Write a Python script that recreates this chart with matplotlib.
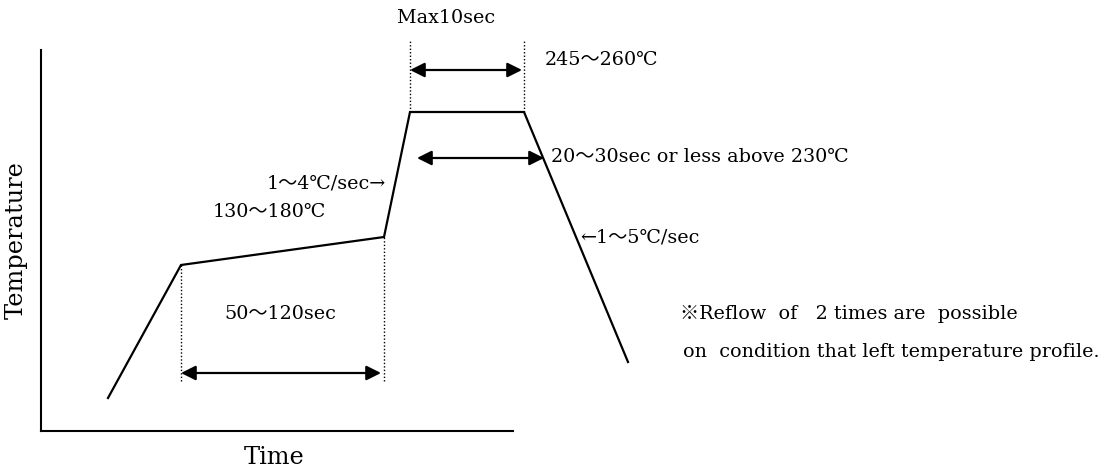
import matplotlib.pyplot as plt

# reflow profile (arbitrary units: time -> right, temperature -> up)
time = [67, 140, 343, 369, 483, 587]
temp = [33, 166, 194, 319, 319, 69]

# dotted guides: (x, y0, y1)
guides = [(140, 50, 166), (343, 50, 194), (369, 319, 391), (483, 319, 391)]

# double arrows: (x0, x1, y)
spans = [(140, 340, 58), (369, 481, 361), (376, 503, 273)]

labels = [
    ("Max10sec", 405, 413, "center"),
    ("245～260℃", 504, 371, "left"),
    ("20～30sec or less above 230℃", 510, 274, "left"),
    ("1～4℃/sec→", 345, 248, "right"),
    ("130～180℃", 172, 219, "left"),
    ("←1～5℃/sec", 539, 194, "left"),
    ("50～120sec", 239, 117, "center"),
    ("※Reflow  of   2 times are  possible", 639, 117, "left"),
    ("on  condition that left temperature profile.", 642, 79, "left"),
]

fonts = ["DejaVu Serif", "Noto Sans CJK JP"]
fs = 13.8

fig = plt.figure(figsize=(11.11, 4.71), dpi=100)
ax = fig.add_axes([41 / 1111, 40 / 471, 472 / 1111, 381 / 471])
ax.set_xlim(0, 472)
ax.set_ylim(0, 381)
for s in ["top", "right"]:
    ax.spines[s].set_visible(False)
for s in ["left", "bottom"]:
    ax.spines[s].set_linewidth(1.5)
ax.set_xticks([])
ax.set_yticks([])

ax.plot(time, temp, color="black", lw=1.6, clip_on=False, solid_joinstyle="miter")

for x, y0, y1 in guides:
    ax.plot([x, x], [y0, y1], color="black", lw=1.0, ls=(0, (1, 1.5)), clip_on=False)

for x0, x1, y in spans:
    ax.annotate("", xy=(x0, y), xytext=(x1, y),
                arrowprops=dict(arrowstyle="<|-|>", color="black", lw=1.6,
                                mutation_scale=22, shrinkA=0, shrinkB=0),
                annotation_clip=False)

for txt, x, y, ha in labels:
    ax.text(x, y, txt, ha=ha, va="center", fontsize=fs, family=fonts, clip_on=False)

ax.text(233, -27, "Time", ha="center", va="center", fontsize=fs + 3.5, family=fonts)
ax.text(-25, 191, "Temperature", ha="center", va="center", rotation=90,
        fontsize=fs + 3.5, family=fonts)

fig.savefig("out.png", dpi=100)
